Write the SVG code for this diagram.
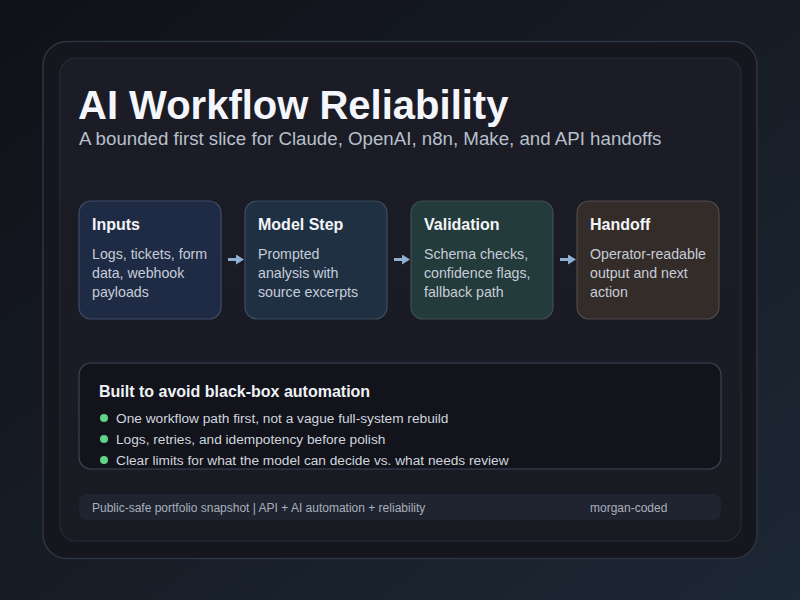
<svg xmlns="http://www.w3.org/2000/svg" width="800" height="600" viewBox="0 0 800 600">
  <defs>
    <linearGradient id="bg" x1="0" y1="0" x2="1" y2="1">
      <stop offset="0" stop-color="#101117"/>
      <stop offset="1" stop-color="#1d2835"/>
    </linearGradient>
    <linearGradient id="panel" x1="0" y1="0" x2="0" y2="1">
      <stop offset="0" stop-color="#1b1c26"/>
      <stop offset="1" stop-color="#191a22"/>
    </linearGradient>
    <marker id="arr" markerWidth="8" markerHeight="10" refX="1" refY="5" orient="auto" markerUnits="userSpaceOnUse" viewBox="0 0 8 10">
      <path d="M0,0 L8,5 L0,10 Z" fill="#8fb0d2"/>
    </marker>
  </defs>
  <style>
    text { font-family: "Liberation Sans", Arial, sans-serif; }
    .title { font-size: 40px; font-weight: bold; fill: #f4f6fb; }
    .sub { font-size: 18.7px; fill: #b9c0cc; }
    .nt { font-size: 16px; font-weight: bold; fill: #f2f4f8; }
    .nb { font-size: 14.2px; fill: #c6cdd8; }
    .box { stroke-width: 1.2; }
    .bt { font-size: 16px; font-weight: bold; fill: #eef1f6; }
    .bl { font-size: 13.7px; fill: #d0d5de; }
    .dot { fill: #5fd38a; }
    .ft { font-size: 12px; fill: #a9b0bc; }
    .conn { stroke: #8fb0d2; stroke-width: 3; fill: none; }
  </style>
  <rect x="0" y="0" width="800" height="600" fill="url(#bg)"/>
  <rect x="43" y="41.5" width="714" height="517" rx="24" fill="#16161e" stroke="#2f3441" stroke-width="1.5"/>
  <rect x="60" y="58" width="681" height="483" rx="16" fill="url(#panel)" stroke="#272b36" stroke-width="1.2"/>

  <g id="header">
    <text class="title" x="78" y="119">AI Workflow Reliability</text>
    <text class="sub" x="79" y="145">A bounded first slice for Claude, OpenAI, n8n, Make, and API handoffs</text>
  </g>

  <g id="inputs">
    <rect class="box" x="79" y="201" width="142" height="118" rx="12" fill="#1f2b44" stroke="#3e4c66"/>
    <text class="nt" x="92" y="230">Inputs</text>
    <text class="nb" x="92" y="259">Logs, tickets, form</text>
    <text class="nb" x="92" y="278">data, webhook</text>
    <text class="nb" x="92" y="297">payloads</text>
  </g>
  <g id="model-step">
    <rect class="box" x="245" y="201" width="142" height="118" rx="12" fill="#1f3043" stroke="#3d4d60"/>
    <text class="nt" x="258" y="230">Model Step</text>
    <text class="nb" x="258" y="259">Prompted</text>
    <text class="nb" x="258" y="278">analysis with</text>
    <text class="nb" x="258" y="297">source excerpts</text>
  </g>
  <g id="validation">
    <rect class="box" x="411" y="201" width="142" height="118" rx="12" fill="#233b3a" stroke="#3e5052"/>
    <text class="nt" x="424" y="230">Validation</text>
    <text class="nb" x="424" y="259">Schema checks,</text>
    <text class="nb" x="424" y="278">confidence flags,</text>
    <text class="nb" x="424" y="297">fallback path</text>
  </g>
  <g id="handoff">
    <rect class="box" x="577" y="201" width="142" height="118" rx="12" fill="#342c28" stroke="#4f4a4a"/>
    <text class="nt" x="590" y="230">Handoff</text>
    <text class="nb" x="590" y="259">Operator-readable</text>
    <text class="nb" x="590" y="278">output and next</text>
    <text class="nb" x="590" y="297">action</text>
  </g>

  <g id="connectors">
    <line class="conn" x1="228" y1="259.5" x2="237" y2="259.5" marker-end="url(#arr)"/>
    <line class="conn" x1="394" y1="259.5" x2="403" y2="259.5" marker-end="url(#arr)"/>
    <line class="conn" x1="560" y1="259.5" x2="569" y2="259.5" marker-end="url(#arr)"/>
  </g>

  <g id="notes">
    <rect x="79" y="363" width="642" height="106" rx="12" fill="#12131b" stroke="#39455a" stroke-width="1.2"/>
    <text class="bt" x="99" y="397">Built to avoid black-box automation</text>
    <circle class="dot" cx="104" cy="418" r="4"/>
    <text class="bl" x="116" y="423">One workflow path first, not a vague full-system rebuild</text>
    <circle class="dot" cx="104" cy="439" r="4"/>
    <text class="bl" x="116" y="444">Logs, retries, and idempotency before polish</text>
    <circle class="dot" cx="104" cy="460" r="4"/>
    <text class="bl" x="116" y="465">Clear limits for what the model can decide vs. what needs review</text>
  </g>

  <g id="footer">
    <rect x="79" y="494" width="642" height="26" rx="8" fill="#1f2430"/>
    <text class="ft" x="92" y="512">Public-safe portfolio snapshot | API + AI automation + reliability</text>
    <text class="ft" x="590" y="512">morgan-coded</text>
  </g>
</svg>
